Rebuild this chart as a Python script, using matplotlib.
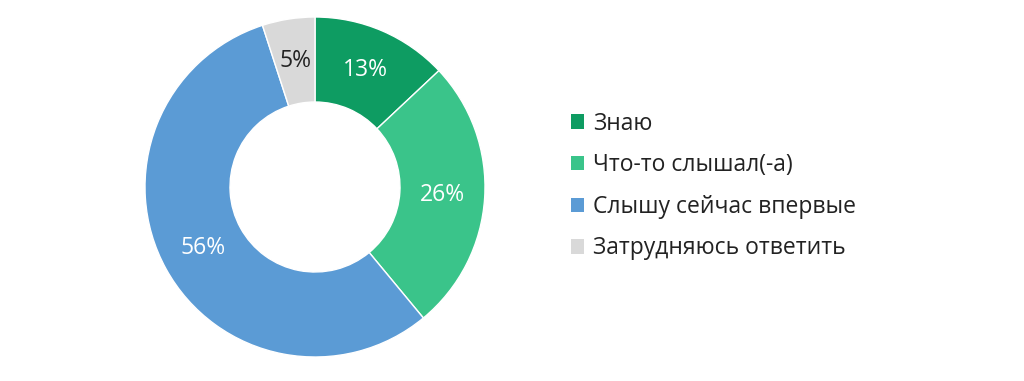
import matplotlib.pyplot as plt
from matplotlib.patches import Patch

plt.rcParams['font.family'] = ['Open Sans', 'DejaVu Sans']

labels = ["Знаю", "Что-то слышал(-а)", "Слышу сейчас впервые", "Затрудняюсь ответить"]
values = [13, 26, 56, 5]
colors = ["#0E9C62", "#3AC48A", "#5B9BD5", "#D9D9D9"]
text_colors = ["white", "white", "white", "#222222"]

fig = plt.figure(figsize=(10.24, 3.81), dpi=100)
W, H = 1024, 381
cx, cy, r = 315, 187, 170
ax = fig.add_axes([(cx - r) / W, (H - cy - r) / H, 2 * r / W, 2 * r / H])

wedges, texts, autotexts = ax.pie(
    values, colors=colors, startangle=90, counterclock=False,
    autopct=lambda p: "%d%%" % round(p), pctdistance=0.75,
    wedgeprops=dict(width=0.5, edgecolor="white", linewidth=1),
    textprops=dict(fontsize=16.5))
for t, c in zip(autotexts, text_colors):
    t.set_color(c)
ax.set_xlim(-1, 1)
ax.set_ylim(-1, 1)
ax.set_aspect("equal")

handles = [Patch(facecolor=c, edgecolor="none") for c in colors]
fig.legend(handles, labels, loc="center left", bbox_to_anchor=(550 / W, 1 - 186 / H),
           frameon=False, fontsize=16.5, labelspacing=0.77, handlelength=0.58,
           handleheight=0.58, handletextpad=0.4, labelcolor="#222222")

fig.savefig("out.png", dpi=100)
